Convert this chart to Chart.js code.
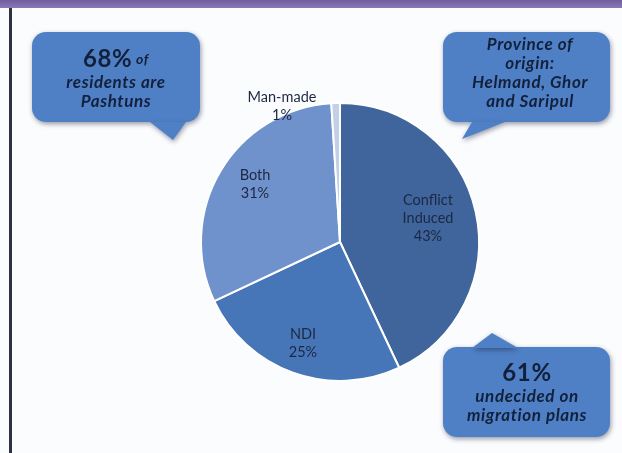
<!DOCTYPE html>
<html>
<head>
<meta charset="utf-8">
<script src="https://cdn.jsdelivr.net/npm/chart.js@4.4.1/dist/chart.umd.min.js"></script>
<style>
  html, body { margin: 0; padding: 0; background: #fbfcfe; }
  #wrap { position: relative; width: 622px; height: 453px; overflow: hidden; }
  #band { position: absolute; left: 0; top: 0; width: 622px; height: 8px; background: linear-gradient(#6f5d9f, #8a78b4); }
  #edge { position: absolute; left: 9px; top: 8px; width: 3px; height: 445px; background: #2b3242; }
  canvas { position: absolute; left: 0; top: 0; }
</style>
</head>
<body>
<div id="wrap">
  <div id="band"></div>
  <div id="edge"></div>
  <canvas id="chart-pie" width="622" height="453"></canvas>
</div>
<script>
const categories = ['Conflict Induced', 'NDI', 'Both', 'Man-made'];
const shares = [43, 25, 31, 1];
const sliceColors = ['#3f659c', '#4676b7', '#7092cc', '#c3d0e6'];

// label lines and offsets from the pie centre
const labelLines = [['Conflict', 'Induced', '43%'], ['NDI', '25%'], ['Both', '31%'], ['Man-made', '1%']];
const labelOffsets = [[88, -42], [-37, 92], [-85, -67], [-58, -145]];

const itb = 'italic bold 17px Lato';
const callouts = [
  { box: [32, 32, 168, 90], tail: [[150, 122], [186, 122], [173, 140]],
    lines: [[{ t: '68%', f: 'bold 24px Lato' }, { t: ' of', f: 'italic bold 14px Lato' }],
            [{ t: 'residents are', f: itb }],
            [{ t: 'Pashtuns', f: itb }]],
    ys: [59, 83, 102], cx: 116 },
  { box: [443, 32, 167, 90], tail: [[472, 122], [505, 122], [462, 139]],
    lines: [[{ t: 'Province of', f: itb }],
            [{ t: 'origin:', f: itb }],
            [{ t: 'Helmand, Ghor', f: itb }],
            [{ t: 'and Saripul', f: itb }]],
    ys: [45, 64, 83, 102], cx: 530 },
  { box: [443, 347, 167, 90], tail: [[472, 348], [518, 348], [492, 333]],
    lines: [[{ t: '61%', f: 'bold 24px Lato' }],
            [{ t: 'undecided on', f: itb }],
            [{ t: 'migration plans', f: itb }]],
    ys: [373, 397, 416], cx: 527 },
];

function roundBox(ctx, x, y, w, h, r) {
  ctx.beginPath();
  ctx.moveTo(x + r, y);
  ctx.arcTo(x + w, y, x + w, y + h, r);
  ctx.arcTo(x + w, y + h, x, y + h, r);
  ctx.arcTo(x, y + h, x, y, r);
  ctx.arcTo(x, y, x + w, y, r);
  ctx.closePath();
}

const overlay = {
  id: 'overlay',
  afterDraw(chart) {
    const ctx = chart.ctx;
    const arc = chart.getDatasetMeta(0).data[0];
    const cx = arc.x, cy = arc.y;

    ctx.save();
    ctx.fillStyle = '#1c2842';
    ctx.font = '14.5px Lato';
    ctx.textAlign = 'center';
    ctx.textBaseline = 'middle';
    labelLines.forEach((lines, i) => {
      const [dx, dy] = labelOffsets[i];
      lines.forEach((l, j) => ctx.fillText(l, cx + dx, cy + dy + j * 18));
    });

    callouts.forEach(c => {
      const [x, y, w, h] = c.box;
      ctx.save();
      ctx.shadowColor = 'rgba(20,30,60,0.45)';
      ctx.shadowBlur = 5;
      ctx.shadowOffsetX = 1;
      ctx.shadowOffsetY = 2;
      ctx.fillStyle = '#4f80c6';
      roundBox(ctx, x, y, w, h, 14);
      ctx.fill();
      ctx.beginPath();
      ctx.moveTo(c.tail[0][0], c.tail[0][1]);
      ctx.lineTo(c.tail[2][0], c.tail[2][1]);
      ctx.lineTo(c.tail[1][0], c.tail[1][1]);
      ctx.closePath();
      ctx.fill();
      ctx.restore();

      ctx.fillStyle = '#13203b';
      ctx.textAlign = 'left';
      ctx.letterSpacing = '0.6px';
      c.lines.forEach((parts, j) => {
        let total = 0;
        parts.forEach(p => { ctx.font = p.f; total += ctx.measureText(p.t).width; });
        let px = c.cx - total / 2;
        parts.forEach(p => {
          ctx.font = p.f;
          ctx.fillText(p.t, px, c.ys[j]);
          px += ctx.measureText(p.t).width;
        });
      });
      ctx.letterSpacing = '0px';
    });
    ctx.restore();
  }
};

new Chart(document.getElementById('chart-pie'), {
  type: 'pie',
  data: {
    labels: categories,
    datasets: [{
      data: shares,
      backgroundColor: sliceColors,
      borderColor: '#ffffff',
      borderWidth: 2,
    }]
  },
  options: {
    responsive: false,
    animation: false,
    layout: { padding: { left: 200, right: 142, top: 102, bottom: 71 } },
    plugins: { legend: { display: false }, tooltip: { enabled: false } }
  },
  plugins: [overlay]
});
</script>
</body>
</html>
